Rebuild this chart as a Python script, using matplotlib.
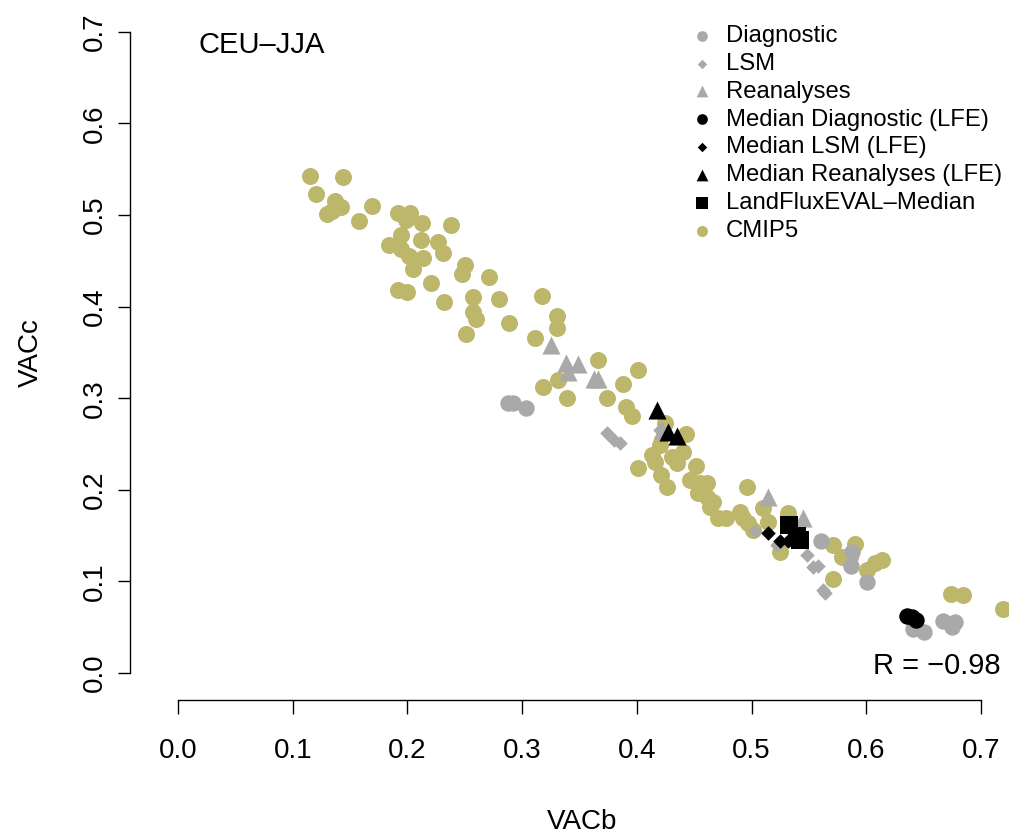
import numpy as np
import matplotlib.pyplot as plt

# -------------------------
# Data
# -------------------------

cmip5_x = [0.115, 0.144, 0.120, 0.137, 0.142, 0.130, 0.134, 0.169, 0.158, 0.192,
           0.202, 0.199, 0.213, 0.238, 0.194, 0.212, 0.184, 0.194, 0.201, 0.214,
           0.227, 0.231, 0.205, 0.250, 0.248, 0.271, 0.221, 0.192, 0.200, 0.257,
           0.280, 0.232, 0.257, 0.260, 0.289, 0.251,
           0.317, 0.330, 0.330, 0.311, 0.331, 0.318, 0.339, 0.366, 0.374, 0.388,
           0.401, 0.391, 0.396, 0.401,
           0.425, 0.420, 0.413, 0.416, 0.421, 0.426, 0.431, 0.435, 0.443, 0.440,
           0.446, 0.452, 0.455, 0.461, 0.453, 0.461, 0.466, 0.464, 0.471, 0.478,
           0.496, 0.490, 0.493, 0.497, 0.501, 0.510, 0.514, 0.532, 0.525, 0.571,
           0.590, 0.579, 0.586, 0.601, 0.608, 0.614, 0.571, 0.674, 0.684, 0.719]
cmip5_y = [0.543, 0.541, 0.523, 0.515, 0.509, 0.501, 0.504, 0.510, 0.493, 0.502,
           0.502, 0.495, 0.491, 0.489, 0.478, 0.473, 0.467, 0.463, 0.455, 0.453,
           0.471, 0.459, 0.441, 0.445, 0.436, 0.432, 0.426, 0.418, 0.416, 0.410,
           0.408, 0.405, 0.394, 0.386, 0.382, 0.370,
           0.412, 0.390, 0.377, 0.366, 0.320, 0.312, 0.300, 0.342, 0.300, 0.316,
           0.331, 0.290, 0.281, 0.224,
           0.273, 0.249, 0.238, 0.230, 0.216, 0.203, 0.236, 0.229, 0.261, 0.241,
           0.211, 0.226, 0.207, 0.207, 0.197, 0.192, 0.187, 0.181, 0.169, 0.169,
           0.203, 0.176, 0.169, 0.164, 0.156, 0.180, 0.165, 0.175, 0.132, 0.140,
           0.141, 0.127, 0.127, 0.112, 0.120, 0.123, 0.103, 0.086, 0.085, 0.070]

diag_x = [0.288, 0.292, 0.303, 0.561, 0.588, 0.587, 0.601, 0.641, 0.650, 0.667, 0.675, 0.677]
diag_y = [0.295, 0.295, 0.289, 0.144, 0.132, 0.117, 0.099, 0.048, 0.045, 0.057, 0.050, 0.056]

lsm_x = [0.374, 0.380, 0.385, 0.420, 0.503, 0.522, 0.548, 0.554, 0.558, 0.562, 0.564]
lsm_y = [0.262, 0.254, 0.251, 0.265, 0.155, 0.140, 0.129, 0.116, 0.117, 0.091, 0.087]

rean_x = [0.325, 0.338, 0.340, 0.349, 0.363, 0.366, 0.422, 0.514, 0.545]
rean_y = [0.358, 0.338, 0.329, 0.337, 0.321, 0.321, 0.265, 0.192, 0.169]

med_diag_x = [0.636, 0.640, 0.643]
med_diag_y = [0.062, 0.061, 0.058]

med_lsm_x = [0.514, 0.525, 0.532]
med_lsm_y = [0.153, 0.144, 0.144]

med_rean_x = [0.418, 0.427, 0.435]
med_rean_y = [0.287, 0.263, 0.259]

lfe_x = [0.533, 0.540, 0.542]
lfe_y = [0.162, 0.150, 0.145]

r_value = -0.98
region = "CEU–JJA"

# -------------------------
# Figure
# -------------------------

plt.rcParams['font.family'] = ['Liberation Sans', 'DejaVu Sans']

W, H = 1009, 836
fig = plt.figure(figsize=(W / 100, H / 100), dpi=100)

# axes box in pixels: left 130, right 1009, bottom 700, top 10
ax = fig.add_axes([130 / W, (H - 700) / H, 879 / W, 690 / H])

gray = "#A9A9A9"
olive = "#BDB76B"

ax.scatter(cmip5_x, cmip5_y, s=150, marker="o", color=olive, lw=0, label="CMIP5", zorder=2, clip_on=False)
ax.scatter(diag_x, diag_y, s=140, marker="o", color=gray, lw=0, label="Diagnostic", zorder=3)
ax.scatter(lsm_x, lsm_y, s=55, marker="D", color=gray, lw=0, label="LSM", zorder=3)
ax.scatter(rean_x, rean_y, s=170, marker="^", color=gray, lw=0, label="Reanalyses", zorder=3)
ax.scatter(med_diag_x, med_diag_y, s=140, marker="o", color="black", lw=0,
           label="Median Diagnostic (LFE)", zorder=4)
ax.scatter(med_lsm_x, med_lsm_y, s=55, marker="D", color="black", lw=0,
           label="Median LSM (LFE)", zorder=4)
ax.scatter(med_rean_x, med_rean_y, s=170, marker="^", color="black", lw=0,
           label="Median Reanalyses (LFE)", zorder=4)
ax.scatter(lfe_x, lfe_y, s=150, marker="s", color="black", lw=0,
           label="LandFluxEVAL–Median", zorder=5)

ax.set_xlim((130 - 178) / 1147, (1009 - 178) / 1147)
ax.set_ylim((673 - 700) / 916, (673 - 10) / 916)

ticks = np.arange(0, 0.71, 0.1)
ax.set_xticks(ticks)
ax.set_yticks(ticks)
ax.set_xticklabels([f"{t:.1f}" for t in ticks])
ax.set_yticklabels([f"{t:.1f}" for t in ticks], rotation=90, va="center")

for side in ["top", "right"]:
    ax.spines[side].set_visible(False)
ax.spines["left"].set_bounds(0, 0.7)
ax.spines["bottom"].set_bounds(0, 0.7)
ax.spines["left"].set_linewidth(1.0)
ax.spines["bottom"].set_linewidth(1.0)

ax.tick_params(axis="x", length=10, width=1.0, pad=17, labelsize=20)
ax.tick_params(axis="y", length=9, width=1.0, pad=7, labelsize=20)

ax.set_xlabel("VACb", fontsize=20)
ax.set_ylabel("VACc", fontsize=20)
ax.xaxis.set_label_coords(0.514, -0.158)
ax.yaxis.set_label_coords(-0.098, 0.504)

ax.text(0.0175, 0.686, region, fontsize=21, va="center", ha="left")
ax.text(0.717, 0.008, f"R = {r_value:.2f}".replace("-", "−"), fontsize=21,
        va="center", ha="right")

# legend order as in the reference
handles, labels = ax.get_legend_handles_labels()
order = ["Diagnostic", "LSM", "Reanalyses", "Median Diagnostic (LFE)",
         "Median LSM (LFE)", "Median Reanalyses (LFE)", "LandFluxEVAL–Median", "CMIP5"]
hl = dict(zip(labels, handles))
ax.legend([hl[k] for k in order], order,
          loc="upper left", bbox_to_anchor=(678 / W, 1 - 13 / H),
          bbox_transform=fig.transFigure, frameon=False, fontsize=17.2,
          markerscale=0.65, handlelength=1.0, handletextpad=0.5,
          labelspacing=0.245, borderpad=0, scatterpoints=1)

fig.savefig("out.png", dpi=100)
